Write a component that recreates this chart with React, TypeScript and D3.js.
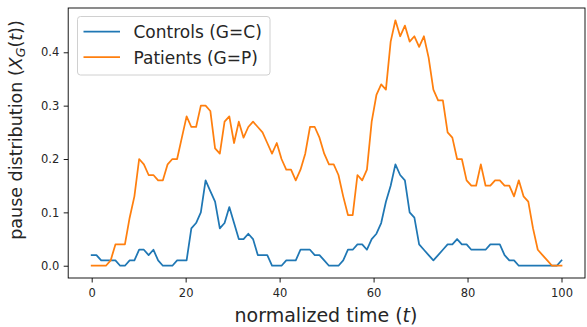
import * as d3 from "d3";
import { useEffect, useRef } from "react";

// pause distribution per normalized time step (100 points, t = 0..100)
const controls = [
  0.02, 0.02, 0.01, 0.01, 0.01, 0.01, 0, 0, 0.01, 0.01,
  0.03, 0.03, 0.02, 0.03, 0.01, 0, 0, 0, 0.01, 0.01,
  0.01, 0.07, 0.08, 0.1, 0.16, 0.14, 0.12, 0.07, 0.08, 0.11,
  0.08, 0.05, 0.05, 0.06, 0.05, 0.02, 0.02, 0.02, 0, 0,
  0, 0.01, 0.01, 0.01, 0.03, 0.03, 0.03, 0.02, 0.02, 0.01,
  0, 0, 0, 0.01, 0.03, 0.03, 0.04, 0.04, 0.03, 0.05,
  0.06, 0.08, 0.12, 0.15, 0.19, 0.17, 0.16, 0.1, 0.09, 0.04,
  0.03, 0.02, 0.01, 0.02, 0.03, 0.04, 0.04, 0.05, 0.04, 0.04,
  0.03, 0.03, 0.03, 0.03, 0.04, 0.04, 0.04, 0.02, 0.01, 0.01,
  0, 0, 0, 0, 0, 0, 0, 0, 0, 0.01,
];

const patients = [
  0, 0, 0, 0, 0.01, 0.04, 0.04, 0.04, 0.09, 0.13,
  0.2, 0.19, 0.17, 0.17, 0.16, 0.16, 0.19, 0.2, 0.2, 0.24,
  0.28, 0.26, 0.26, 0.3, 0.3, 0.29, 0.22, 0.21, 0.27, 0.28,
  0.23, 0.27, 0.24, 0.26, 0.27, 0.26, 0.25, 0.23, 0.21, 0.23,
  0.2, 0.18, 0.18, 0.16, 0.18, 0.21, 0.26, 0.26, 0.24, 0.21,
  0.19, 0.19, 0.17, 0.13, 0.095, 0.095, 0.17, 0.16, 0.18, 0.27,
  0.32, 0.34, 0.33, 0.42, 0.46, 0.43, 0.45, 0.42, 0.43, 0.41,
  0.43, 0.39, 0.33, 0.31, 0.31, 0.25, 0.24, 0.2, 0.2, 0.16,
  0.15, 0.15, 0.19, 0.15, 0.15, 0.16, 0.16, 0.15, 0.15, 0.13,
  0.16, 0.13, 0.12, 0.07, 0.03, 0.02, 0.01, 0, 0, 0,
];

// x positions like np.linspace(0, 100, 100)
const timeSteps = d3.range(controls.length).map((i) => (i * 100) / (controls.length - 1));

const xTicks = [0, 20, 40, 60, 80, 100];
const yTicks = [0, 0.1, 0.2, 0.3, 0.4];
const seriesNames = ["Controls (G=C)", "Patients (G=P)"];
const colors = ["#1f77b4", "#ff7f0e"];

const W = 587;
const H = 327;
const margin = { top: 8, right: 2, bottom: 49, left: 68.2 };

const App = () => {
  const ref = useRef<SVGSVGElement>(null);

  useEffect(() => {
    const svg = d3.select(ref.current);
    svg.selectAll("*").remove();

    const x = d3
      .scaleLinear()
      .domain([-5, 105])
      .range([margin.left, W - margin.right]);

    const yMax = d3.max([...controls, ...patients]) as number;
    const pad = yMax * 0.05;
    const y = d3
      .scaleLinear()
      .domain([-pad, yMax + pad])
      .range([H - margin.bottom, margin.top]);

    const font = "'DejaVu Sans', sans-serif";

    // lines
    const line = d3
      .line<number>()
      .x((_, i) => x(timeSteps[i]))
      .y((d) => y(d));

    [controls, patients].forEach((s, k) => {
      svg
        .append("path")
        .datum(s)
        .attr("d", line)
        .attr("fill", "none")
        .attr("stroke", colors[k])
        .attr("stroke-width", 1.75)
        .attr("stroke-linejoin", "round")
        .attr("stroke-linecap", "square");
    });

    // axes
    const xAxis = svg
      .append("g")
      .attr("transform", `translate(0,${H - margin.bottom})`)
      .call(d3.axisBottom(x).tickValues(xTicks).tickSize(4.5).tickPadding(6.5).tickFormat(d3.format("d")));
    const yAxis = svg
      .append("g")
      .attr("transform", `translate(${margin.left},0)`)
      .call(d3.axisLeft(y).tickValues(yTicks).tickSize(4.5).tickPadding(4.5).tickFormat(d3.format(".1f")));

    [xAxis, yAxis].forEach((g) => {
      g.select(".domain").remove();
      g.selectAll("line").attr("stroke", "#000").attr("stroke-width", 0.9);
      g.selectAll("text")
        .attr("font-family", font)
        .attr("font-size", 11.5)
        .attr("fill", "#262626");
    });

    // spines
    svg
      .append("rect")
      .attr("x", margin.left)
      .attr("y", margin.top)
      .attr("width", W - margin.right - margin.left)
      .attr("height", H - margin.bottom - margin.top)
      .attr("fill", "none")
      .attr("stroke", "#000")
      .attr("stroke-width", 0.9);

    // x label
    const xl = svg
      .append("text")
      .attr("x", 326)
      .attr("y", 322)
      .attr("text-anchor", "middle")
      .attr("font-family", font)
      .attr("font-size", 19)
      .attr("fill", "#262626");
    xl.append("tspan").text("normalized time (");
    xl.append("tspan").attr("font-style", "italic").text("t");
    xl.append("tspan").text(")");

    // y label
    const yl = svg
      .append("text")
      .attr("transform", `translate(21.5,130) rotate(-90)`)
      .attr("text-anchor", "middle")
      .attr("font-family", font)
      .attr("font-size", 17.5)
      .attr("fill", "#262626");
    yl.append("tspan").text("pause distribution (");
    yl.append("tspan").attr("font-style", "italic").text("X");
    yl.append("tspan").attr("font-style", "italic").attr("font-size", 12.5).attr("dy", 3.5).text("G");
    yl.append("tspan").attr("dy", -3.5).text("(");
    yl.append("tspan").attr("font-style", "italic").text("t");
    yl.append("tspan").text("))");

    // legend
    const lg = svg.append("g");
    lg.append("rect")
      .attr("x", 77.5)
      .attr("y", 16.5)
      .attr("width", 192.5)
      .attr("height", 58.5)
      .attr("rx", 3)
      .attr("fill", "#fff")
      .attr("fill-opacity", 0.8)
      .attr("stroke", "#d0d0d0")
      .attr("stroke-width", 1);
    seriesNames.forEach((name, k) => {
      const cy = 31.5 + k * 25.6;
      lg.append("line")
        .attr("x1", 83.5)
        .attr("x2", 120)
        .attr("y1", cy)
        .attr("y2", cy)
        .attr("stroke", colors[k])
        .attr("stroke-width", 1.75);
      lg.append("text")
        .attr("x", 133.5)
        .attr("y", cy + 6.5)
        .attr("font-family", font)
        .attr("font-size", 17)
        .attr("fill", "#262626")
        .text(name);
    });
  }, []);

  return (
    <svg
      ref={ref}
      width={W}
      height={H}
      style={{ position: "absolute", left: 0, top: 0, background: "#fff" }}
    />
  );
};

export default App;
